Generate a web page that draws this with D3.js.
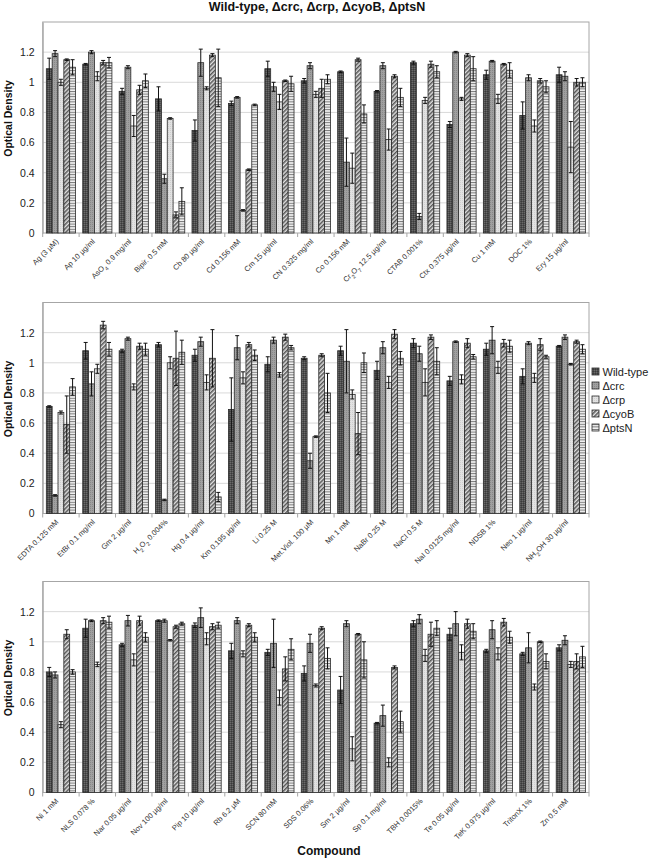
<!DOCTYPE html>
<html><head><meta charset="utf-8">
<script src="https://cdn.jsdelivr.net/npm/d3@7"></script>
<style>
body{margin:0;background:#fff;}
svg{display:block;font-family:Arial,"Liberation Sans",sans-serif;}
</style>
</head><body>
<svg id="chart" width="659" height="860"></svg>
<script>
// ---------- DATA ----------
const series = ["Wild-type", "Δcrc", "Δcrp", "ΔcyoB", "ΔptsN"];
const yTicks = [0, 0.2, 0.4, 0.6, 0.8, 1, 1.2];

const cats1 = ["Ag (3 µM)", "Ap 10 µg/ml", "AsO{4} 0.9 mg/ml", "Bipir. 0.5 mM", "Cb 80 µg/ml", "Cd 0.156 mM", "Cm 15 µg/ml", "CN 0.325 mg/ml", "Co 0.156 mM", "Cr{2}O{7} 12.5 µg/ml", "CTAB 0.001%", "Ctx 0.375 µg/ml", "Cu 1 mM", "DOC 1%", "Ery 15 µg/ml"];
const p1WT   = [1.09, 1.12, 0.94, 0.89, 0.68, 0.86, 1.09, 1.01, 1.07, 0.94, 1.13, 0.72, 1.05, 0.78, 1.05];
const p1Crc  = [1.19, 1.20, 1.10, 0.36, 1.13, 0.90, 0.97, 1.11, 0.47, 1.11, 0.11, 1.20, 1.14, 1.03, 1.04];
const p1Crp  = [1.00, 1.04, 0.71, 0.76, 0.96, 0.15, 0.87, 0.92, 0.43, 0.62, 0.88, 0.89, 0.89, 0.71, 0.57];
const p1Cyo  = [1.15, 1.13, 0.95, 0.12, 1.18, 0.42, 1.01, 0.96, 1.15, 1.04, 1.12, 1.18, 1.12, 1.01, 1.00];
const p1Pts  = [1.10, 1.13, 1.01, 0.21, 1.03, 0.85, 0.99, 1.02, 0.79, 0.90, 1.07, 1.09, 1.08, 0.97, 1.00];
const p1WTe  = [0.07, 0.005, 0.02, 0.08, 0.07, 0.015, 0.05, 0.015, 0.005, 0.005, 0.01, 0.02, 0.03, 0.09, 0.05];
const p1Crce = [0.02, 0.01, 0.01, 0.03, 0.09, 0.005, 0.03, 0.02, 0.16, 0.02, 0.02, 0.005, 0.005, 0.02, 0.03];
const p1Crpe = [0.02, 0.03, 0.07, 0.005, 0.01, 0.005, 0.05, 0.02, 0.10, 0.07, 0.02, 0.01, 0.03, 0.04, 0.17];
const p1Cyoe = [0.005, 0.015, 0.03, 0.02, 0.01, 0.005, 0.005, 0.06, 0.01, 0.01, 0.02, 0.01, 0.005, 0.015, 0.025];
const p1Ptse = [0.05, 0.035, 0.045, 0.09, 0.19, 0.005, 0.05, 0.03, 0.06, 0.06, 0.04, 0.08, 0.05, 0.04, 0.03];

const cats2 = ["EDTA 0.125 mM", "EtBr 0.1 mg/ml", "Gm 2 µg/ml", "H{2}O{2} 0.004%", "Hg 0.4 µg/ml", "Km 0.195 µg/ml", "Li 0.25 M", "Met.Viol. 100 µM", "Mn 1 mM", "NaBr 0.25 M", "NaCl 0.5 M", "NaI 0.0125 mg/ml", "NDSB 1%", "Neo 1 µg/ml", "NH{2}OH 30 µg/ml"];
const p2WT   = [0.71, 1.08, 1.08, 1.12, 1.05, 0.69, 0.99, 1.03, 1.08, 0.95, 1.13, 0.88, 1.09, 0.91, 1.11];
const p2Crc  = [0.12, 0.86, 1.16, 0.09, 1.14, 1.10, 1.15, 0.35, 1.01, 1.10, 1.06, 1.14, 1.15, 1.13, 1.17];
const p2Crp  = [0.67, 0.96, 0.84, 1.00, 0.87, 0.90, 0.92, 0.51, 0.79, 0.87, 0.87, 0.89, 0.97, 0.90, 0.99];
const p2Cyo  = [0.59, 1.25, 1.11, 1.03, 1.03, 1.12, 1.17, 1.05, 0.53, 1.19, 1.17, 1.13, 1.13, 1.12, 1.14];
const p2Pts  = [0.84, 1.09, 1.09, 1.07, 0.11, 1.05, 1.10, 0.80, 1.00, 1.03, 1.01, 1.04, 1.11, 1.04, 1.09];
const p2WTe  = [0.005, 0.055, 0.01, 0.015, 0.04, 0.21, 0.05, 0.01, 0.03, 0.06, 0.03, 0.03, 0.04, 0.05, 0.005];
const p2Crce = [0.005, 0.08, 0.01, 0.005, 0.03, 0.08, 0.02, 0.05, 0.21, 0.04, 0.05, 0.005, 0.09, 0.01, 0.015];
const p2Crpe = [0.01, 0.03, 0.02, 0.04, 0.05, 0.04, 0.015, 0.005, 0.03, 0.04, 0.09, 0.03, 0.04, 0.03, 0.005];
const p2Cyoe = [0.19, 0.025, 0.02, 0.18, 0.19, 0.015, 0.02, 0.01, 0.14, 0.03, 0.015, 0.03, 0.025, 0.04, 0.01];
const p2Ptse = [0.055, 0.045, 0.04, 0.08, 0.03, 0.035, 0.015, 0.13, 0.065, 0.045, 0.09, 0.015, 0.04, 0.01, 0.03];

const cats3 = ["Ni 1 mM", "NLS 0.078 %", "Nar 0.05 µg/ml", "Nov 100 µg/ml", "Pip 10 µg/ml", "Rb 6.2 µM", "SCN 80 mM", "SDS 0.06%", "Sm 2 µg/ml", "Sp 0.1 mg/ml", "TBH 0.0015%", "Te 0.05 µg/ml", "TeK 0.975 µg/ml", "TritonX 1%", "Zn 0.5 mM"];
const p3WT   = [0.80, 1.09, 0.98, 1.14, 1.11, 0.94, 0.93, 0.79, 0.68, 0.46, 1.12, 1.05, 0.94, 0.92, 0.96];
const p3Crc  = [0.78, 1.14, 1.14, 1.14, 1.16, 1.14, 0.99, 0.99, 1.12, 0.51, 1.15, 1.12, 1.08, 0.96, 1.01];
const p3Crp  = [0.45, 0.85, 0.88, 1.01, 1.02, 0.92, 0.63, 0.71, 0.29, 0.20, 0.91, 0.93, 0.92, 0.70, 0.85];
const p3Cyo  = [1.05, 1.14, 1.14, 1.10, 1.10, 1.11, 0.82, 1.09, 1.05, 0.83, 1.05, 1.12, 1.13, 1.00, 0.87];
const p3Pts  = [0.80, 1.13, 1.03, 1.12, 1.11, 1.03, 0.95, 0.89, 0.88, 0.47, 1.09, 1.07, 1.03, 0.87, 0.90];
const p3WTe  = [0.03, 0.06, 0.01, 0.005, 0.015, 0.05, 0.02, 0.05, 0.09, 0.005, 0.02, 0.04, 0.01, 0.01, 0.02];
const p3Crce = [0.02, 0.005, 0.035, 0.01, 0.065, 0.02, 0.16, 0.06, 0.02, 0.07, 0.03, 0.08, 0.06, 0.10, 0.03];
const p3Crpe = [0.02, 0.015, 0.04, 0.005, 0.04, 0.02, 0.05, 0.01, 0.08, 0.03, 0.04, 0.05, 0.04, 0.02, 0.02];
const p3Cyoe = [0.03, 0.02, 0.03, 0.01, 0.02, 0.01, 0.08, 0.01, 0.005, 0.01, 0.08, 0.03, 0.025, 0.005, 0.05];
const p3Ptse = [0.015, 0.04, 0.03, 0.01, 0.02, 0.03, 0.07, 0.07, 0.12, 0.07, 0.05, 0.05, 0.04, 0.05, 0.07];

const panels = [
  {cats: cats1, vals: [p1WT, p1Crc, p1Crp, p1Cyo, p1Pts], errs: [p1WTe, p1Crce, p1Crpe, p1Cyoe, p1Ptse]},
  {cats: cats2, vals: [p2WT, p2Crc, p2Crp, p2Cyo, p2Pts], errs: [p2WTe, p2Crce, p2Crpe, p2Cyoe, p2Ptse]},
  {cats: cats3, vals: [p3WT, p3Crc, p3Crp, p3Cyo, p3Pts], errs: [p3WTe, p3Crce, p3Crpe, p3Cyoe, p3Ptse]}
];

// ---------- LAYOUT ----------
const svg = d3.select("#chart");
const L = 42.7, R = 589;
const tops = [22, 302.5, 581.5];
const H = 211;

// patterns
const defs = svg.append("defs");
function pat(id, w, h, bg, draw, transform) {
  const p = defs.append("pattern").attr("id", id).attr("patternUnits", "userSpaceOnUse")
    .attr("width", w).attr("height", h);
  if (transform) p.attr("patternTransform", transform);
  p.append("rect").attr("width", w).attr("height", h).attr("fill", bg);
  draw(p);
}
pat("pWT", 2, 2, "#4e4e4e", p => {
  p.append("rect").attr("width", 1).attr("height", 1).attr("fill", "#6a6a6a");
  p.append("rect").attr("x", 1).attr("y", 1).attr("width", 1).attr("height", 1).attr("fill", "#3a3a3a");
});
pat("pCrc", 2, 2, "#a0a0a0", p => {
  p.append("rect").attr("width", 1).attr("height", 1).attr("fill", "#888");
});
pat("pCrp", 2, 2, "#e2e2e2", p => {
  p.append("rect").attr("width", 1).attr("height", 1).attr("fill", "#cfcfcf");
});
pat("pCyo", 3, 3, "#e0e0e0", p => {
  p.append("rect").attr("width", 1.5).attr("height", 3).attr("fill", "#555");
}, "rotate(45)");
pat("pPts", 3, 2.6, "#f2f2f2", p => {
  p.append("rect").attr("width", 3).attr("height", 1).attr("fill", "#777");
});
const fills = ["url(#pWT)", "url(#pCrc)", "url(#pCrp)", "url(#pCyo)", "url(#pPts)"];

function addLabel(t, str) {
  str.split(/(\{[^}]*\})/).forEach(p => {
    if (!p) return;
    if (p[0] === "{") t.append("tspan").attr("baseline-shift", "sub").attr("font-size", "0.75em").text(p.slice(1, -1));
    else t.append("tspan").text(p);
  });
}

// title
svg.append("text").attr("x", 317).attr("y", 11).attr("text-anchor", "middle")
  .attr("font-size", 12.5).attr("font-weight", "bold").attr("fill", "#111")
  .text("Wild-type, Δcrc, Δcrp, ΔcyoB, ΔptsN");

panels.forEach((pn, pi) => {
  const top = tops[pi], bot = top + H;
  const g = svg.append("g");
  const x0 = d3.scaleBand().domain(pn.cats).range([L, R]).padding(0);
  const x1 = d3.scaleBand().domain(series).range([0, x0.bandwidth()]).paddingInner(0).paddingOuter(0.62);
  const y = d3.scaleLinear().domain([0, 1.4]).range([bot, top]);

  // gridlines
  g.append("g").selectAll("line").data(yTicks.filter(d => d > 0)).join("line")
    .attr("x1", L).attr("x2", R).attr("y1", d => y(d)).attr("y2", d => y(d))
    .attr("stroke", "#d9d9d9").attr("stroke-width", 1);
  // plot border
  g.append("rect").attr("x", L).attr("y", top).attr("width", R - L).attr("height", H)
    .attr("fill", "none").attr("stroke", "#a6a6a6").attr("stroke-width", 1);

  // y axis
  const ya = g.append("g").attr("transform", `translate(${L},0)`)
    .call(d3.axisLeft(y).tickValues(yTicks).tickSize(0).tickPadding(8)
      .tickFormat(d => d === 0 ? "0" : d3.format(".1~f")(d)));
  ya.select(".domain").attr("stroke", "#a6a6a6");
  ya.selectAll("text").attr("font-size", 10.5).attr("fill", "#222").attr("font-family", "Arial, 'Liberation Sans', sans-serif");

  // x axis ticks at boundaries
  g.append("g").selectAll("line").data(d3.range(pn.cats.length + 1)).join("line")
    .attr("x1", i => L + i * x0.bandwidth()).attr("x2", i => L + i * x0.bandwidth())
    .attr("y1", bot).attr("y2", bot + 4).attr("stroke", "#a6a6a6");

  // x labels
  g.append("g").selectAll("text").data(pn.cats).join("text")
    .attr("transform", d => `translate(${x0(d) + x0.bandwidth() / 2 - 2},${bot + 9}) rotate(-45)`)
    .attr("text-anchor", "end").attr("font-size", 7.5).attr("fill", "#333")
    .each(function(d) { addLabel(d3.select(this), d); });

  // bars
  series.forEach((s, si) => {
    const sg = g.append("g");
    sg.selectAll("rect").data(pn.cats).join("rect")
      .attr("x", d => x0(d) + x1(s))
      .attr("width", x1.bandwidth())
      .attr("y", (d, i) => y(pn.vals[si][i]))
      .attr("height", (d, i) => bot - y(pn.vals[si][i]))
      .attr("fill", fills[si]).attr("stroke", "#2a2a2a").attr("stroke-width", 0.8);
  });
  // error bars
  series.forEach((s, si) => {
    const eg = g.append("g").attr("stroke", "#111").attr("stroke-width", 1).attr("fill", "none");
    pn.cats.forEach((c, i) => {
      const v = pn.vals[si][i], e = pn.errs[si][i];
      const cx = x0(c) + x1(s) + x1.bandwidth() / 2;
      const y1 = y(v - e), y2 = y(v + e);
      eg.append("line").attr("x1", cx).attr("x2", cx).attr("y1", y1).attr("y2", y2);
      eg.append("line").attr("x1", cx - 2).attr("x2", cx + 2).attr("y1", y1).attr("y2", y1);
      eg.append("line").attr("x1", cx - 2).attr("x2", cx + 2).attr("y1", y2).attr("y2", y2);
    });
  });

  // y label
  svg.append("text")
    .attr("transform", `translate(12,${(top + bot) / 2 - 9}) rotate(-90)`)
    .attr("text-anchor", "middle").attr("font-size", 10.5).attr("font-weight", "bold").attr("fill", "#111")
    .text("Optical Density");
});

// legend
const lg = svg.append("g");
series.forEach((s, i) => {
  const yy = 371.5 + i * 14;
  lg.append("rect").attr("x", 592).attr("y", yy - 3.5).attr("width", 7).attr("height", 7)
    .attr("fill", fills[i]).attr("stroke", "#2a2a2a").attr("stroke-width", 0.8);
  lg.append("text").attr("x", 602.5).attr("y", yy + 4).attr("font-size", 11).attr("fill", "#222").text(s);
});

// x title
svg.append("text").attr("x", 329).attr("y", 855).attr("text-anchor", "middle")
  .attr("font-size", 12).attr("font-weight", "bold").attr("fill", "#111").text("Compound");
</script>
</body></html>
